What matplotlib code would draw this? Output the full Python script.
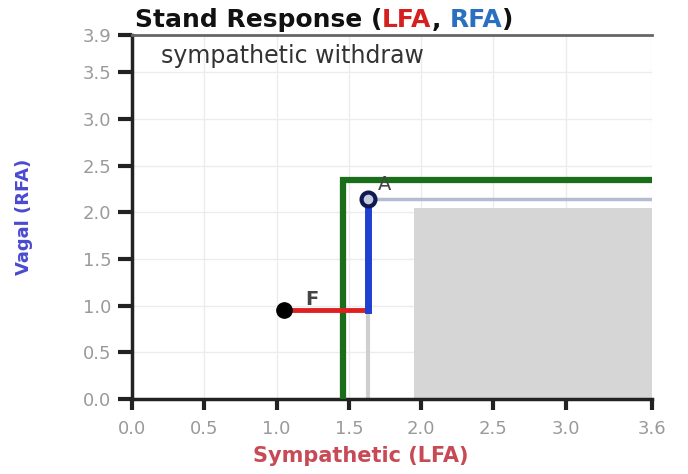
import matplotlib
matplotlib.use("Agg")
import matplotlib.pyplot as plt
from matplotlib.patches import Rectangle

# Data
xticks = [0.0, 0.5, 1.0, 1.5, 2.0, 2.5, 3.0, 3.6]
xticklabels = ["0.0", "0.5", "1.0", "1.5", "2.0", "2.5", "3.0", "3.6"]
yticks = [0.0, 0.5, 1.0, 1.5, 2.0, 2.5, 3.0, 3.5, 3.9]
yticklabels = ["0.0", "0.5", "1.0", "1.5", "2.0", "2.5", "3.0", "3.5", "3.9"]
xmax, ymax = 3.6, 3.9

green_x = [1.46, 1.46, 3.6]
green_y = [0.0, 2.35, 2.35]
gray_x = [1.63, 1.63]
gray_y = [0.0, 0.95]
lightblue_x = [1.63, 3.6]
lightblue_y = [2.14, 2.14]
shade_x0, shade_y0 = 1.95, 0.0
shade_x1, shade_y1 = 3.6, 2.05
red_x = [1.05, 1.63]
red_y = [0.96, 0.96]
blue_x = [1.63, 1.63]
blue_y = [0.96, 2.14]
pt_F = (1.05, 0.96)
pt_A = (1.63, 2.14)

fig = plt.figure(figsize=(6.88, 4.74), dpi=100)
ax = fig.add_axes([0.192, 0.158, 0.756, 0.768])
ax.set_xlim(0, xmax)
ax.set_ylim(0, ymax)

ax.add_patch(Rectangle((shade_x0, shade_y0), shade_x1 - shade_x0, shade_y1 - shade_y0,
                       facecolor="#d6d6d6", edgecolor="none", zorder=1))
ax.plot(green_x, green_y, color="#1a6e1a", lw=4.5, solid_joinstyle="miter", zorder=3)
ax.plot(gray_x, gray_y, color="#cfcfcf", lw=3, zorder=2)
ax.plot(lightblue_x, lightblue_y, color="#b4bcd4", lw=2.5, zorder=2)
ax.plot(red_x, red_y, color="#e02020", lw=3.5, zorder=4)
ax.plot(blue_x, blue_y, color="#2040d0", lw=5, zorder=4)
ax.plot([pt_F[0]], [pt_F[1]], "o", color="black", ms=11, zorder=5)
ax.plot([pt_A[0]], [pt_A[1]], "o", mfc="#c8cce0", mec="#101a50", mew=3, ms=10, zorder=5)
ax.text(pt_F[0] + 0.15, pt_F[1] + 0.05, "F", fontsize=14, fontweight="bold", color="#444444", zorder=6)
ax.text(pt_A[0] + 0.07, pt_A[1] + 0.1, "A", fontsize=14, color="#444444", zorder=6)
ax.text(0.2, 3.6, "sympathetic withdraw", fontsize=17, color="#333333")

ax.set_xticks(xticks)
ax.set_xticklabels(xticklabels)
ax.set_yticks(yticks)
ax.set_yticklabels(yticklabels)
ax.grid(True, color="#ececec", lw=1)
ax.set_axisbelow(True)
ax.tick_params(axis="both", direction="out", length=8, width=3, color="#222222",
               labelsize=13, labelcolor="#9a9a9a")
ax.tick_params(axis="x", pad=7)
ax.tick_params(axis="y", length=10, pad=5)
for s in ["left", "bottom"]:
    ax.spines[s].set_linewidth(2.5)
    ax.spines[s].set_color("#222222")
ax.spines["top"].set_color("#666666")
ax.spines["top"].set_linewidth(2)
ax.spines["right"].set_visible(False)

ax.set_xlabel("Sympathetic (LFA)", fontsize=15, fontweight="bold", color="#c84a55")
ax.xaxis.set_label_coords(0.44, -0.13)
ax.set_ylabel("Vagal (RFA)", fontsize=13, fontweight="bold", color="#4a4ad0")
ax.yaxis.set_label_coords(-0.19, 0.5)

# Multi-colored title
parts = [("Stand Response (", "#111111"), ("LFA", "#d62020"), (", ", "#111111"),
         ("RFA", "#2a70c0"), (")", "#111111")]
fig.canvas.draw()
renderer = fig.canvas.get_renderer()
x = 0.196
y = 0.932
for txt, col in parts:
    t = fig.text(x, y, txt, fontsize=18, fontweight="bold", color=col, ha="left", va="bottom")
    bb = t.get_window_extent(renderer=renderer)
    x += bb.width / fig.bbox.width

fig.savefig("out.png", dpi=100)
